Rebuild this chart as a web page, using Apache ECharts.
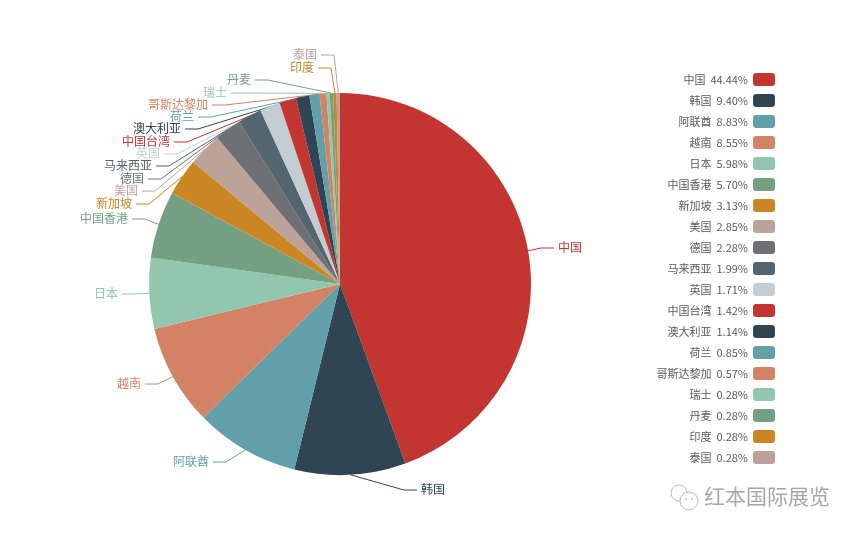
<!DOCTYPE html>
<html>
<head>
<meta charset="utf-8">
<title>pie</title>
<script src="https://cdn.jsdelivr.net/npm/echarts@6/dist/echarts.min.js"></script>
<style>
html,body{margin:0;padding:0;background:#fff;}
#pieChart{width:860px;height:536px;}
</style>
</head>
<body>
<div id="pieChart"></div>
<script>
var names = ['中国','韩国','阿联酋','越南','日本','中国香港','新加坡','美国','德国','马来西亚','英国','中国台湾','澳大利亚','荷兰','哥斯达黎加','瑞士','丹麦','印度','泰国'];
var counts = [156,33,31,30,21,20,11,10,8,7,6,5,4,3,2,1,1,1,1];
var percents = ['44.44%','9.40%','8.83%','8.55%','5.98%','5.70%','3.13%','2.85%','2.28%','1.99%','1.71%','1.42%','1.14%','0.85%','0.57%','0.28%','0.28%','0.28%','0.28%'];
var colors = ['#c23531','#2f4554','#61a0a8','#d48265','#91c7ae','#749f83','#ca8622','#bda29a','#6e7074','#546570','#c4ccd3'];
var watermark = '红本国际展览';

// where each label's inner edge sits, same order as names
var labelEdgeX = [558,421,209,141,118,128,132,138,144,152,160,170,181,194,208,227,251,314,317];
var labelEdgeY = [247,489,461,383,293,218,203,190,178,165,153,141,128,116,104,92,79,67,54];

var pieData = [];
for (var i = 0; i < names.length; i++) {
	pieData.push({name: names[i], value: counts[i]});
}

var font = '"Noto Sans CJK SC","Noto Sans",sans-serif';
var iconColor = '#bbb';

var chart = echarts.init(document.getElementById('pieChart'));
chart.setOption({
	animation: false,
	color: colors,
	textStyle: {fontFamily: font},
	legend: {
		orient: 'vertical',
		right: 80,
		top: 68,
		align: 'right',
		itemWidth: 22,
		itemHeight: 13,
		itemGap: 8,
		itemStyle: {borderWidth: 0},
		icon: 'roundRect',
		textStyle: {fontSize: 11, color: '#5a5a5a', fontFamily: font},
		data: names,
		formatter: function (name) {
			return name + '  ' + percents[names.indexOf(name)];
		}
	},
	graphic: [
		{type: 'circle', shape: {cx: 679, cy: 493, r: 8}, style: {fill: 'none', stroke: iconColor, lineWidth: 1}},
		{type: 'circle', shape: {cx: 689, cy: 501, r: 9}, style: {fill: '#fff', stroke: iconColor, lineWidth: 1}},
		{type: 'circle', shape: {cx: 686, cy: 499, r: 1}, style: {fill: iconColor}},
		{type: 'circle', shape: {cx: 692, cy: 499, r: 1}, style: {fill: iconColor}},
		{type: 'text', left: 704, top: 486, style: {text: watermark, fontSize: 21, fill: '#a6a6a6', fontFamily: font}}
	],
	series: [{
		type: 'pie',
		center: [340, 284],
		radius: 191,
		startAngle: 90,
		data: pieData,
		label: {fontSize: 12, fontFamily: font, color: 'inherit'},
		labelLine: {length: 15, length2: 20, lineStyle: {width: 1}},
		labelLayout: function (params) {
			var n = params.dataIndex;
			var x = labelEdgeX[n], y = labelEdgeY[n];
			// 中国 and 韩国 sit right of the pie, the rest left of it
			var side = n < 2 ? -1 : 1;
			var points = params.labelLinePoints;
			return {
				x: x,
				y: y,
				align: n < 2 ? 'left' : 'right',
				verticalAlign: 'middle',
				labelLinePoints: [points[0], [x + side * 17, y + 1], [x + side * 4, y + 1]]
			};
		}
	}]
});
</script>
</body>
</html>
